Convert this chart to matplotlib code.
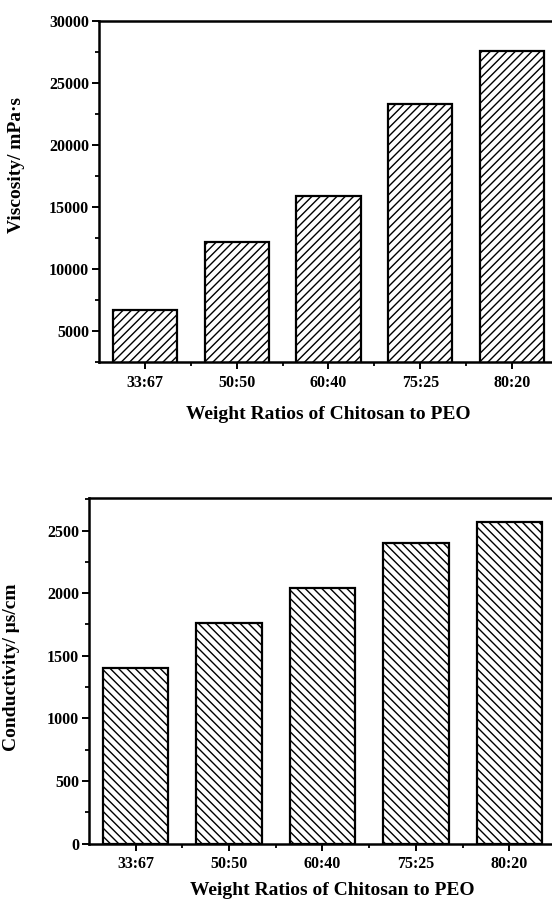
"""Viscosity and conductivity of chitosan/PEO blends vs weight ratio (two bar panels)."""

import matplotlib
matplotlib.use("Agg")
import matplotlib.pyplot as plt
import matplotlib.ticker as mticker

# ── Data ──────────────────────────────────────────────────────────────────
ratios = ["33:67", "50:50", "60:40", "75:25", "80:20"]
viscosity = [6700, 12200, 15900, 23300, 27600]        # mPa·s
conductivity = [1400, 1760, 2040, 2400, 2565]         # µs/cm

plt.rcParams["font.family"] = ["Liberation Serif", "DejaVu Serif"]
plt.rcParams["font.weight"] = "bold"
plt.rcParams["hatch.linewidth"] = 1.0

SPINE_LW = 1.8
XLABEL = "Weight Ratios of Chitosan to PEO"

fig = plt.figure(figsize=(5.52, 8.99), dpi=100)
ax_v = fig.add_axes([0.1793, 0.5973, 0.8315, 0.3793])
ax_c = fig.add_axes([0.1612, 0.0617, 0.8460, 0.3843])

x = list(range(1, len(ratios) + 1))


def style_axis(ax, major, minor, ylim):
    ax.set_xlim(0.5, len(ratios) + 0.5)
    ax.set_ylim(*ylim)
    ax.set_xticks(x)
    ax.set_xticklabels(ratios, fontsize=11.5, fontweight="bold")
    ax.xaxis.set_minor_locator(mticker.FixedLocator([i + 0.5 for i in x[:-1]]))
    ax.yaxis.set_major_locator(mticker.MultipleLocator(major))
    ax.yaxis.set_minor_locator(mticker.MultipleLocator(minor))
    for lab in ax.get_yticklabels():
        lab.set_fontsize(11.5)
        lab.set_fontweight("bold")
    ax.tick_params(which="major", direction="out", length=5, width=1.4, pad=2)
    ax.tick_params(axis="x", which="major", pad=4)
    ax.tick_params(which="minor", direction="out", length=3, width=1.3)
    for side in ("left", "bottom", "top", "right"):
        ax.spines[side].set_linewidth(SPINE_LW)


# ── Top: viscosity ────────────────────────────────────────────────────────
ax_v.bar(x, viscosity, width=0.7, color="white", edgecolor="black",
         linewidth=1.6, hatch="////")
style_axis(ax_v, 5000, 2500, (2500, 30000))
ax_v.set_ylabel("Viscosity/ mPa·s", fontsize=14, fontweight="bold")
ax_v.yaxis.set_label_coords(-0.161, 0.579)
ax_v.set_xlabel(XLABEL, fontsize=14, fontweight="bold")
ax_v.xaxis.set_label_coords(0.5, -0.155)
ax_v.xaxis.label.set_va("center")

# ── Bottom: conductivity ──────────────────────────────────────────────────
ax_c.bar(x, conductivity, width=0.7, color="white", edgecolor="black",
         linewidth=1.6, hatch="\\\\\\\\")
style_axis(ax_c, 500, 250, (0, 2760))
ax_c.set_ylabel("Conductivity/ μs/cm", fontsize=14, fontweight="bold")
ax_c.yaxis.set_label_coords(-0.148, 0.509)
ax_c.set_xlabel(XLABEL, fontsize=14, fontweight="bold")
ax_c.xaxis.set_label_coords(0.52, -0.135)
ax_c.xaxis.label.set_va("center")

fig.savefig("out.png", dpi=100)
plt.close(fig)
